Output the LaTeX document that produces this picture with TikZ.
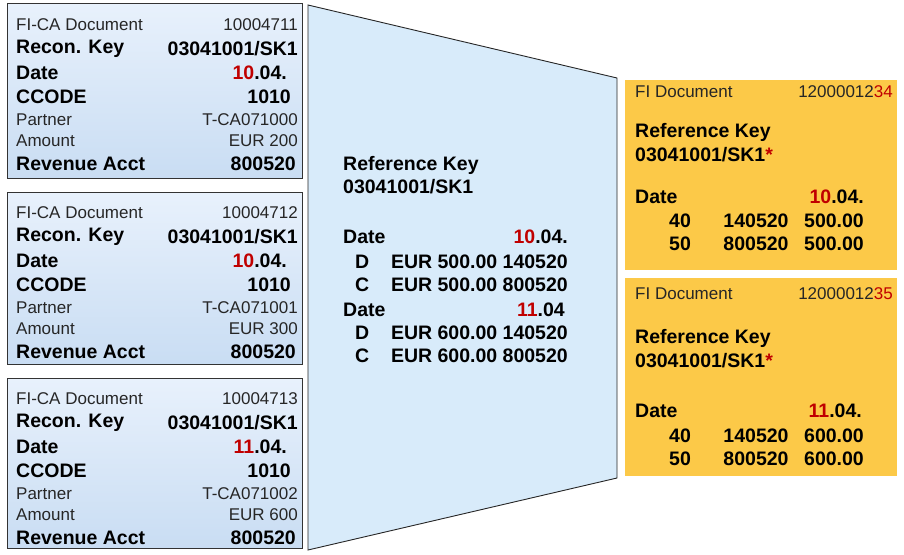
\documentclass[tikz,border=0pt]{standalone}
\usepackage{fontspec}
\setmainfont{Liberation Sans}
\begin{document}
\begin{tikzpicture}[x=1pt,y=-1pt,
 reg/.style={inner sep=0pt,font=\fontsize{17}{19}\selectfont,text=black!85},
 bld/.style={inner sep=0pt,font=\fontsize{19.5}{22}\selectfont\bfseries},
 L/.style={anchor=west}, R/.style={anchor=east}, C/.style={anchor=center}]
\definecolor{rd}{HTML}{C00000}
\definecolor{orf}{HTML}{FCC948}
\definecolor{lb}{HTML}{D8EBFA}
\definecolor{bt}{HTML}{E8F1FC}
\definecolor{bb}{HTML}{C9DDF3}
\useasboundingbox (0,0) rectangle (904,554);
% left boxes
\foreach \t/\b in {3/178,192/364,378/548}{
 \fill[top color=bt,bottom color=bb] (7,\t) rectangle (302,\b);
 \draw[black!80,line width=0.9pt] (7,\t) rectangle (302,\b);
}
\foreach \i/\y/\num/\partner/\amt/\d in {1/25/10004711/T-CA071000/EUR 200/10,2/213/10004712/T-CA071001/EUR 300/10,3/399/10004713/T-CA071002/EUR 600/11}{
 \node[reg,L] (fa\i) at (16,\y) {FI-CA Document};
 \node[reg,R] (fb\i) at (298,\y) {\num};
 \node[bld,L] (ra\i) at (16,\y+23.5) {Recon. Key};
 \node[bld,R] (rb\i) at (298,\y+23.5) {03041001/SK1};
 \node[bld,L] (da\i) at (16,\y+47.5) {Date};
 \node[bld,R] (db\i) at (287,\y+47.5) {\textcolor{rd}{\d}.04.};
 \node[bld,L] (ca\i) at (16,\y+71.5) {CCODE};
 \node[bld,R] (cb\i) at (291,\y+71.5) {1010};
 \node[reg,L] (pa\i) at (16,\y+94.5) {Partner};
 \node[reg,R] (pb\i) at (298,\y+94.5) {\partner};
 \node[reg,L] (aa\i) at (16,\y+116) {Amount};
 \node[reg,R] (ab\i) at (298,\y+116) {\amt};
 \node[bld,L] (va\i) at (16,\y+139) {Revenue Acct};
 \node[bld,R] (vb\i) at (296,\y+139) {800520};
}
% trapezoid
\draw[fill=lb,draw=black!85,line width=0.9pt] (308,5) -- (617,78) -- (617,478) -- (308,550) -- cycle;
\node[bld,L] (m1) at (343,165) {Reference Key};
\node[bld,L] (m2) at (343,187) {03041001/SK1};
\node[bld,L] (m3) at (343,237) {Date};
\node[bld,R] (m4) at (568,237) {\textcolor{rd}{10}.04.};
\node[bld,L] (m5) at (355,262) {D};
\node[bld,R] (m6) at (568,262) {EUR 500.00 140520};
\node[bld,L] (m7) at (355,285) {C};
\node[bld,R] (m8) at (568,285) {EUR 500.00 800520};
\node[bld,L] (m9) at (343,310) {Date};
\node[bld,R] (m10) at (565,310) {\textcolor{rd}{11}.04};
\node[bld,L] (m11) at (355,333) {D};
\node[bld,R] (m12) at (568,333) {EUR 600.00 140520};
\node[bld,L] (m13) at (355,356) {C};
\node[bld,R] (m14) at (568,356) {EUR 600.00 800520};
% right boxes
\fill[orf] (625,80) rectangle (897,270);
\fill[orf] (625,278) rectangle (897,476);
\foreach \i/\y/\n in {1/92/34,2/294/35}{
 \node[reg,L] (ga\i) at (635,\y) {FI Document};
 \node[reg,R] (gb\i) at (893,\y) {12000012\textcolor{rd}{\n}};
}
\node[bld,L] (k1) at (635,132) {Reference Key};
\node[bld,L] (k2) at (635,155) {03041001/SK1\textcolor{rd}{*}};
\node[bld,L] (k3) at (635,197) {Date};
\node[bld,R] (k4) at (864,197) {\textcolor{rd}{10}.04.};
\node[bld,C] (k5) at (680,221) {40};
\node[bld,C] (k6) at (756,221) {140520};
\node[bld,R] (k7) at (864,221) {500.00};
\node[bld,C] (k8) at (680,244) {50};
\node[bld,C] (k9) at (756,244) {800520};
\node[bld,R] (k10) at (864,244) {500.00};
\node[bld,L] (j1) at (635,338) {Reference Key};
\node[bld,L] (j2) at (635,361) {03041001/SK1\textcolor{rd}{*}};
\node[bld,L] (j3) at (635,411) {Date};
\node[bld,R] (j4) at (862,411) {\textcolor{rd}{11}.04.};
\node[bld,C] (j5) at (680,436) {40};
\node[bld,C] (j6) at (756,436) {140520};
\node[bld,R] (j7) at (864,436) {600.00};
\node[bld,C] (j8) at (680,459) {50};
\node[bld,C] (j9) at (756,459) {800520};
\node[bld,R] (j10) at (864,459) {600.00};
\end{tikzpicture}
\end{document}
